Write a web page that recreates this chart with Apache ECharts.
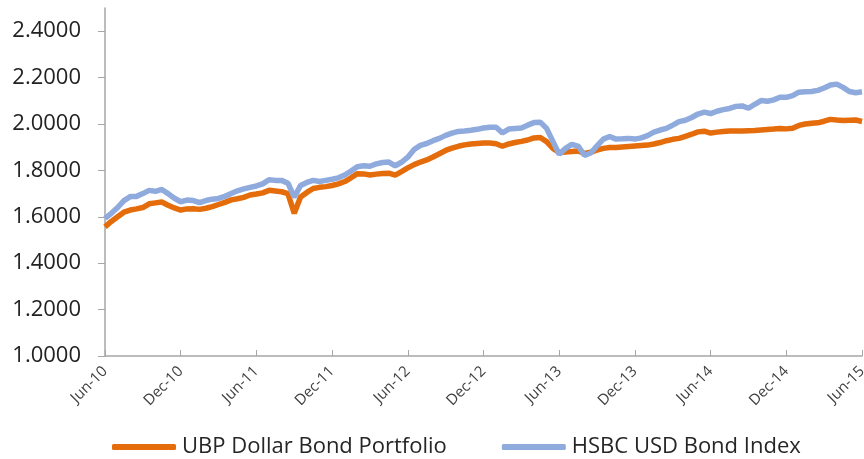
<!DOCTYPE html>
<html>
<head>
<meta charset="utf-8">
<script src="https://cdn.jsdelivr.net/npm/echarts@6/dist/echarts.min.js"></script>
<style>
html,body{margin:0;padding:0;background:#fff;}
#chart{width:864px;height:459px;}
</style>
</head>
<body>
<div id="chart"></div>
<script>
// semi-monthly points, Jun-10 .. Jun-15
var monthNames = ['Jan','Feb','Mar','Apr','May','Jun','Jul','Aug','Sep','Oct','Nov','Dec'];
var yTicks = [1.0, 1.2, 1.4, 1.6, 1.8, 2.0, 2.2, 2.4];

var ubpData = [
    1.557,1.580,1.600,1.620,1.629,1.634,1.640,1.656,1.660,1.664,1.650,1.638,
    1.629,1.634,1.635,1.632,1.637,1.644,1.653,1.662,1.673,1.678,1.684,1.694,
    1.698,1.703,1.714,1.711,1.708,1.700,1.615,1.685,1.705,1.722,1.727,1.730,
    1.735,1.742,1.752,1.768,1.786,1.785,1.780,1.784,1.787,1.788,1.780,1.795,
    1.811,1.825,1.836,1.845,1.858,1.872,1.886,1.896,1.904,1.910,1.914,1.916,
    1.918,1.918,1.915,1.904,1.914,1.920,1.925,1.931,1.940,1.942,1.924,1.895,
    1.877,1.879,1.881,1.884,1.873,1.878,1.888,1.895,1.899,1.899,1.901,1.903,
    1.905,1.907,1.909,1.914,1.920,1.928,1.934,1.938,1.947,1.956,1.966,1.969,
    1.961,1.965,1.968,1.970,1.970,1.970,1.971,1.972,1.974,1.976,1.978,1.981,
    1.979,1.982,1.994,2.000,2.003,2.005,2.012,2.020,2.017,2.015,2.016,2.017,
    2.011
];
var hsbcData = [
    1.593,1.615,1.640,1.670,1.687,1.688,1.700,1.714,1.710,1.718,1.700,1.680,
    1.665,1.672,1.670,1.661,1.670,1.676,1.679,1.688,1.700,1.712,1.720,1.727,
    1.733,1.742,1.760,1.757,1.757,1.745,1.685,1.735,1.748,1.757,1.752,1.757,
    1.762,1.768,1.780,1.797,1.816,1.820,1.818,1.828,1.834,1.836,1.820,1.835,
    1.857,1.890,1.908,1.916,1.928,1.938,1.951,1.961,1.968,1.970,1.973,1.977,
    1.983,1.986,1.986,1.962,1.978,1.981,1.983,1.995,2.006,2.008,1.981,1.925,
    1.870,1.895,1.912,1.905,1.865,1.875,1.906,1.935,1.946,1.935,1.936,1.938,
    1.935,1.940,1.950,1.965,1.974,1.981,1.995,2.010,2.016,2.028,2.043,2.051,
    2.045,2.055,2.062,2.067,2.076,2.078,2.068,2.085,2.101,2.098,2.104,2.115,
    2.115,2.122,2.137,2.139,2.140,2.145,2.155,2.168,2.172,2.158,2.140,2.135,
    2.139
];

var xData = [];
for (var i = 0; i < ubpData.length; i++) {
    var m = 5 + Math.floor(i / 2);
    var yr = 10 + Math.floor(m / 12);
    xData.push(monthNames[m % 12] + '-' + yr + (i % 2 ? 'b' : ''));
}

var chart = echarts.init(document.getElementById('chart'));
var option = {
    animation: false,
    grid: {
        left: 105,
        right: 2,
        top: 8,
        bottom: 103,
        outerBoundsMode: 'none'
    },
    legend: {
        left: 107,
        top: 431,
        icon: 'roundRect',
        itemWidth: 64,
        itemHeight: 6,
        itemGap: 55,
        textStyle: {
            fontFamily: 'Open Sans',
            fontSize: 22,
            color: '#262626',
            padding: [0, 0, 0, 1]
        },
        data: ['UBP Dollar Bond Portfolio', 'HSBC USD Bond Index']
    },
    xAxis: {
        type: 'category',
        boundaryGap: false,
        data: xData,
        axisLine: {
            lineStyle: { color: '#a6a6a6', width: 1.5 }
        },
        axisTick: {
            inside: true,
            length: 6,
            interval: 11,
            lineStyle: { color: '#a6a6a6' }
        },
        axisLabel: {
            interval: 11,
            rotate: 45,
            margin: 13,
            fontFamily: 'Open Sans',
            fontSize: 15,
            color: '#404040'
        },
        splitLine: { show: false }
    },
    yAxis: {
        type: 'value',
        min: 1,
        max: 2.5,
        interval: 0.2,
        axisLine: {
            show: true,
            lineStyle: { color: '#a6a6a6', width: 1.5 }
        },
        axisTick: {
            show: true,
            length: 7,
            customValues: yTicks,
            lineStyle: { color: '#a6a6a6' }
        },
        axisLabel: {
            customValues: yTicks,
            margin: 24,
            fontFamily: 'Open Sans',
            fontSize: 22,
            color: '#222',
            formatter: function (v) { return v.toFixed(4); }
        },
        splitLine: { show: false }
    },
    series: [
        {
            name: 'UBP Dollar Bond Portfolio',
            type: 'line',
            showSymbol: false,
            symbol: 'none',
            lineStyle: { width: 5.5, color: '#E46C0A' },
            itemStyle: { color: '#E46C0A' },
            data: ubpData
        },
        {
            name: 'HSBC USD Bond Index',
            type: 'line',
            showSymbol: false,
            symbol: 'none',
            lineStyle: { width: 5.5, color: '#8FAADC' },
            itemStyle: { color: '#8FAADC' },
            data: hsbcData
        }
    ]
};
chart.setOption(option);
</script>
</body>
</html>
